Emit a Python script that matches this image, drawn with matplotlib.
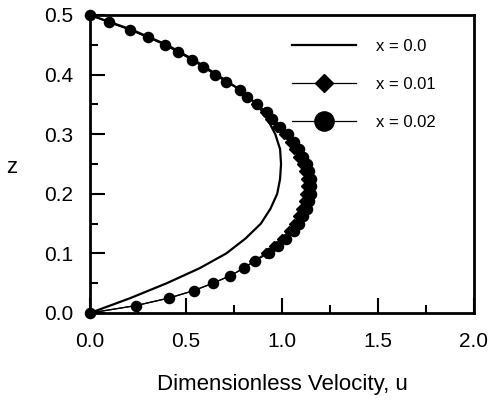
import matplotlib
matplotlib.use("Agg")
import matplotlib.pyplot as plt
from matplotlib.ticker import MultipleLocator, FormatStrFormatter

plt.rcParams['font.family'] = ['Liberation Sans', 'DejaVu Sans']

# x = 0.0 (solid line)
z_0 = [0.0, 0.025, 0.05, 0.075, 0.1, 0.125, 0.15, 0.175, 0.2, 0.225, 0.25,
       0.275, 0.3, 0.325, 0.35, 0.375, 0.4, 0.425, 0.45, 0.475, 0.5]
u_0 = [0.0, 0.21, 0.40, 0.57, 0.71, 0.81, 0.89, 0.94, 0.975, 0.99, 0.995,
       0.99, 0.965, 0.925, 0.87, 0.78, 0.66, 0.54, 0.40, 0.22, 0.0]

# x = 0.01 and x = 0.02 (markers)
z_m = [0.0, 0.0125, 0.025, 0.0375, 0.05, 0.0625, 0.075, 0.0875, 0.1, 0.1125,
       0.125, 0.1375, 0.15, 0.1625, 0.175, 0.1875, 0.2, 0.2125, 0.225, 0.2375,
       0.25, 0.2625, 0.275, 0.2875, 0.3, 0.3125, 0.325, 0.3375, 0.35, 0.3625,
       0.375, 0.3875, 0.4, 0.4125, 0.425, 0.4375, 0.45, 0.4625, 0.475, 0.4875, 0.5]
u_001 = [0.0, 0.24, 0.41, 0.54, 0.64, 0.73, 0.80, 0.855, 0.915, 0.96,
         1.0, 1.035, 1.065, 1.085, 1.10, 1.115, 1.12, 1.125, 1.125, 1.115,
         1.105, 1.085, 1.065, 1.04, 1.01, 0.975, 0.94, 0.91, 0.865, 0.82,
         0.78, 0.71, 0.65, 0.59, 0.53, 0.46, 0.39, 0.30, 0.21, 0.10, 0.0]
u_002 = [0.0, 0.24, 0.41, 0.54, 0.64, 0.73, 0.80, 0.86, 0.93, 0.98,
         1.02, 1.06, 1.09, 1.11, 1.13, 1.14, 1.15, 1.15, 1.15, 1.14,
         1.13, 1.11, 1.09, 1.06, 1.03, 0.99, 0.95, 0.92, 0.87, 0.82,
         0.78, 0.71, 0.65, 0.59, 0.53, 0.46, 0.39, 0.30, 0.21, 0.10, 0.0]

labels = ["x = 0.0", "x = 0.01", "x = 0.02"]

fig = plt.figure(figsize=(4.93, 4.03), dpi=100)
ax = fig.add_axes([90/493, 1 - 313/403, 384/493, 298/403])

ax.plot(u_0, z_0, color='black', lw=1.6, label=labels[0], clip_on=False, zorder=3)
ax.plot(u_001, z_m, color='black', lw=0.9, marker='D', ms=5.0,
        label=labels[1], clip_on=False, zorder=2)
ax.plot(u_002, z_m, color='black', lw=0.9, marker='o', ms=7.3,
        label=labels[2], clip_on=False, zorder=4)

ax.set_xlim(0, 2.0)
ax.set_ylim(0, 0.5)
ax.xaxis.set_major_locator(MultipleLocator(0.5))
ax.xaxis.set_minor_locator(MultipleLocator(0.25))
ax.yaxis.set_major_locator(MultipleLocator(0.1))
ax.yaxis.set_minor_locator(MultipleLocator(0.05))
ax.xaxis.set_major_formatter(FormatStrFormatter('%.1f'))
ax.yaxis.set_major_formatter(FormatStrFormatter('%.1f'))

ax.tick_params(which='both', direction='in', top=False, right=False, width=1.5)
ax.tick_params(which='major', length=11, labelsize=15)
ax.tick_params(axis='x', which='major', pad=14)
ax.tick_params(axis='y', which='major', pad=12)
ax.tick_params(which='minor', length=6)
for s in ax.spines.values():
    s.set_linewidth(2)

ax.set_xlabel("Dimensionless Velocity, u", fontsize=16, labelpad=16)
ax.set_ylabel("z", fontsize=16, rotation=0, va='center', ha='center')
ax.yaxis.set_label_coords(-0.203, 0.487)

leg = ax.legend(loc='upper left', bbox_to_anchor=(0.525, 0.92), frameon=False,
                fontsize=12, handlelength=3.85, handletextpad=1.2,
                labelspacing=1.37, borderpad=0, borderaxespad=0, markerscale=1.9)

fig.savefig("out.png", dpi=100)
